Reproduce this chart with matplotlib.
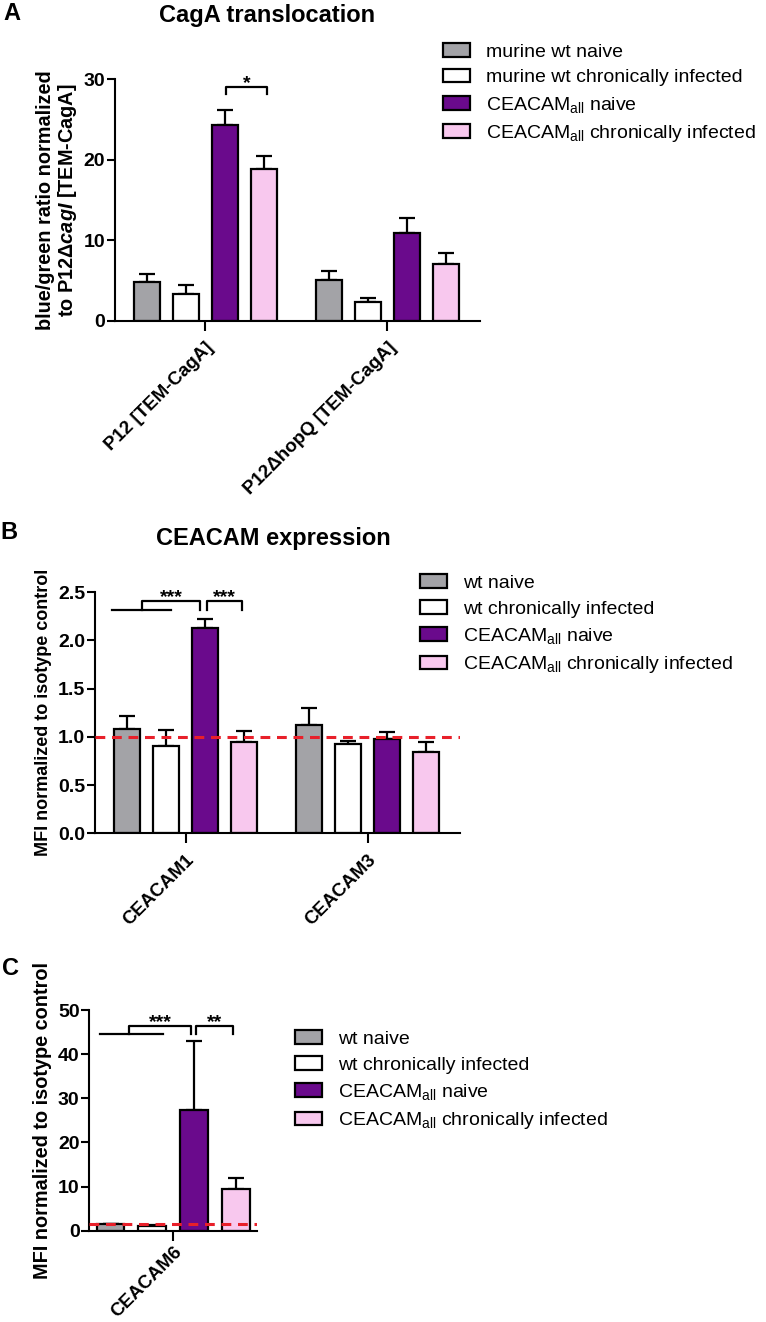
import numpy as np
import matplotlib
matplotlib.use('Agg')
import matplotlib.pyplot as plt
from matplotlib.patches import Patch

plt.rcParams['font.family'] = 'Liberation Sans'
plt.rcParams['mathtext.fontset'] = 'custom'
plt.rcParams['mathtext.rm'] = 'Liberation Sans:bold'
plt.rcParams['mathtext.it'] = 'Liberation Sans:bold:italic'
plt.rcParams['mathtext.bf'] = 'Liberation Sans:bold'

# colours of the four groups
grey = '#a3a3a7'
white = '#ffffff'
purple = '#6a0a8c'
pink = '#f8c8ee'
colors = [grey, white, purple, pink]

# panel A: CagA translocation
a_cats = ['P12 [TEM-CagA]', 'P12\u0394hopQ [TEM-CagA]']
a_grey = [4.8, 5.1]
a_grey_err = [1.0, 1.15]
a_white = [3.35, 2.3]
a_white_err = [1.1, 0.6]
a_purple = [24.3, 10.9]
a_purple_err = [1.85, 1.9]
a_pink = [18.8, 7.1]
a_pink_err = [1.7, 1.3]
a_labels = ['murine wt naive', 'murine wt chronically infected',
            'CEACAM$_\\mathregular{all}$ naive', 'CEACAM$_\\mathregular{all}$ chronically infected']

# panel B: CEACAM expression
b_cats = ['CEACAM1', 'CEACAM3']
b_grey = [1.08, 1.12]
b_grey_err = [0.14, 0.175]
b_white = [0.91, 0.926]
b_white_err = [0.16, 0.03]
b_purple = [2.127, 0.978]
b_purple_err = [0.095, 0.07]
b_pink = [0.947, 0.847]
b_pink_err = [0.118, 0.10]
bc_labels = ['wt naive', 'wt chronically infected',
             'CEACAM$_\\mathregular{all}$ naive', 'CEACAM$_\\mathregular{all}$ chronically infected']

# panel C: CEACAM6
c_cats = ['CEACAM6']
c_grey = [1.45]
c_grey_err = [0.1]
c_white = [1.1]
c_white_err = [0.1]
c_purple = [27.3]
c_purple_err = [15.6]
c_pink = [9.4]
c_pink_err = [2.6]

offsets = [-0.321, -0.107, 0.107, 0.321]
bw = 0.142

fig = plt.figure(figsize=(7.66, 13.22), dpi=100)


def draw_panel(ax, cats, vals, errs, ylim, yticks, fmt, xlim, refline=None, xpad=6):
    x = np.arange(len(cats))
    for i in range(4):
        ax.bar(x + offsets[i], vals[i], bw, color=colors[i], edgecolor='black',
               linewidth=1.6, zorder=2)
        ax.errorbar(x + offsets[i], vals[i], yerr=[np.zeros(len(cats)), errs[i]],
                    fmt='none', ecolor='black', elinewidth=1.6, capsize=5.5,
                    capthick=1.6, zorder=1)
    if refline is not None:
        ax.axhline(refline, color='#e8202a', lw=2.2, dashes=(3.2, 2.2), zorder=5)
    ax.set_xlim(xlim)
    ax.set_ylim(ylim)
    ax.set_yticks(yticks)
    ax.set_yticklabels([fmt.format(t) for t in yticks], fontsize=14, fontweight='bold')
    ax.set_xticks(x)
    ax.set_xticklabels(cats, rotation=45, ha='right', va='top',
                       rotation_mode='anchor', fontsize=13.5, fontweight='bold')
    for s in ['top', 'right']:
        ax.spines[s].set_visible(False)
    for s in ['left', 'bottom']:
        ax.spines[s].set_linewidth(1.5)
    ax.tick_params(width=1.5, length=6, direction='out', pad=1)
    ax.tick_params(axis='x', length=7, pad=xpad)


def bracket(ax, x1, x2, ytop, ybot):
    ax.plot([x1, x1, x2, x2], [ybot, ytop, ytop, ybot], color='black', lw=1.6, clip_on=False)


def legend(handles_labels, x, y):
    handles = [Patch(facecolor=c, edgecolor='black', linewidth=1.6) for c in colors]
    fig.legend(handles, handles_labels, loc='upper left', bbox_to_anchor=(x, y),
               frameon=False, borderpad=0, borderaxespad=0, handlelength=1.4,
               handleheight=0.7, handletextpad=0.8, labelspacing=0.42, fontsize=14)


# ---- A ----
axA = fig.add_axes([0.150, 0.7572, 0.477, 0.183])
draw_panel(axA, a_cats, [a_grey, a_white, a_purple, a_pink],
           [a_grey_err, a_white_err, a_purple_err, a_pink_err],
           (0, 30), [0, 10, 20, 30], '{:g}', (-0.495, 1.51))
axA.set_ylabel('blue/green ratio normalized\nto P12$\\Delta\\mathit{cagI}$ [TEM-CagA]',
               fontsize=14.3, fontweight='bold', labelpad=3, linespacing=1.1)
bracket(axA, 0.115, 0.339, 29.0, 28.1)
axA.text(0.227, 28.4, '*', ha='center', va='bottom', fontsize=14, fontweight='bold')
legend(a_labels, 0.578, 0.9675)
fig.text(0.349, 0.9885, 'CagA translocation', ha='center', va='center', fontsize=17, fontweight='bold')
fig.text(0.004, 0.9895, 'A', ha='left', va='center', fontsize=17, fontweight='bold')

# ---- B ----
axB = fig.add_axes([0.124, 0.3697, 0.4765, 0.1823])
draw_panel(axB, b_cats, [b_grey, b_white, b_purple, b_pink],
           [b_grey_err, b_white_err, b_purple_err, b_pink_err],
           (0, 2.5), [0.0, 0.5, 1.0, 1.5, 2.0, 2.5], '{:.1f}', (-0.498, 1.507), refline=1.0)
axB.set_ylabel('MFI normalized to isotype control', fontsize=13, fontweight='bold', labelpad=4)
axB.plot([-0.405, -0.081], [2.32, 2.32], color='black', lw=1.6, clip_on=False)
bracket(axB, -0.24, 0.079, 2.405, 2.32)
bracket(axB, 0.117, 0.309, 2.405, 2.32)
axB.text(-0.08, 2.36, '***', ha='center', va='bottom', fontsize=14, fontweight='bold')
axB.text(0.213, 2.36, '***', ha='center', va='bottom', fontsize=14, fontweight='bold')
legend(bc_labels, 0.548, 0.5655)
fig.text(0.357, 0.593, 'CEACAM expression', ha='center', va='center', fontsize=17, fontweight='bold')
fig.text(0.0, 0.597, 'B', ha='left', va='center', fontsize=17, fontweight='bold')

# ---- C ----
axC = fig.add_axes([0.1166, 0.0691, 0.219, 0.1669])
draw_panel(axC, c_cats, [c_grey, c_white, c_purple, c_pink],
           [c_grey_err, c_white_err, c_purple_err, c_pink_err],
           (0, 50), [0, 10, 20, 30, 40, 50], '{:g}', (-0.43, 0.43), refline=1.4, xpad=2)
axC.set_ylabel('MFI normalized to isotype control', fontsize=14.3, fontweight='bold', labelpad=4)
axC.plot([-0.373, -0.053], [44.5, 44.5], color='black', lw=1.6, clip_on=False)
bracket(axC, -0.225, 0.093, 46.4, 44.5)
bracket(axC, 0.119, 0.308, 46.4, 44.5)
axC.text(-0.066, 45.2, '***', ha='center', va='bottom', fontsize=14, fontweight='bold')
axC.text(0.213, 45.2, '**', ha='center', va='bottom', fontsize=14, fontweight='bold')
legend(bc_labels, 0.385, 0.2205)
fig.text(0.003, 0.2675, 'C', ha='left', va='center', fontsize=17, fontweight='bold')

fig.savefig('out.png', dpi=100)
